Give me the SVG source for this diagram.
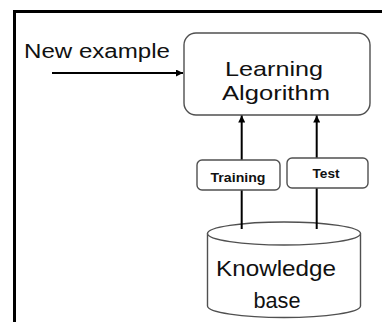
<svg xmlns="http://www.w3.org/2000/svg" width="382" height="322" viewBox="0 0 382 322">
<defs>
<style>
.box{fill:#fff;stroke:#505050;stroke-width:1.4}
.t{font-family:"Liberation Sans",Arial,sans-serif;fill:#111;text-anchor:middle}
.b{font-family:"Liberation Sans",Arial,sans-serif;font-weight:bold;fill:#111;text-anchor:middle;font-size:13.5px}
.c{stroke:#000;stroke-width:2;fill:none;marker-end:url(#ah)}
</style>
<marker id="ah" viewBox="0 0 10 10" refX="10" refY="5" markerWidth="3.5" markerHeight="3.5" orient="auto" markerUnits="strokeWidth">
<path d="M0,0 L10,5 L0,10 Z" fill="#000"/>
</marker>
</defs>
<rect width="382" height="322" fill="#fff"/>
<path d="M14.5,322 V11.5 H382" fill="none" stroke="#000" stroke-width="3"/>
<g id="kb">
<path class="box" d="M207.5,233.5 V306 A76.5,11.5 0 0 0 360.5,306 V233.5"/>
<ellipse class="box" cx="284" cy="233.5" rx="76.5" ry="11.5"/>
<text class="t" x="276" y="276" font-size="22" textLength="120" lengthAdjust="spacingAndGlyphs">Knowledge</text>
<text class="t" x="277" y="308" font-size="22" textLength="47" lengthAdjust="spacingAndGlyphs">base</text>
</g>
<g id="learning">
<rect class="box" x="184" y="33" width="186" height="82" rx="12"/>
<text class="t" x="274" y="76" font-size="21" textLength="98" lengthAdjust="spacingAndGlyphs">Learning</text>
<text class="t" x="276" y="100" font-size="21" textLength="108" lengthAdjust="spacingAndGlyphs">Algorithm</text>
</g>
<g id="newexample">
<text class="t" x="97" y="58" font-size="20" textLength="146" lengthAdjust="spacingAndGlyphs">New example</text>
</g>
<g id="connectors">
<line class="c" x1="52" y1="73" x2="183" y2="73"/>
<line class="c" x1="241.7" y1="229" x2="241.7" y2="115.5"/>
<line class="c" x1="316.7" y1="229" x2="316.7" y2="115.5"/>
</g>
<g id="training">
<rect class="box" x="197" y="160" width="83" height="30" rx="5"/>
<text class="b" x="238" y="182" textLength="55" lengthAdjust="spacingAndGlyphs">Training</text>
</g>
<g id="test">
<rect class="box" x="287" y="158" width="81" height="30" rx="5"/>
<text class="b" x="326" y="178" textLength="27" lengthAdjust="spacingAndGlyphs">Test</text>
</g>
</svg>
